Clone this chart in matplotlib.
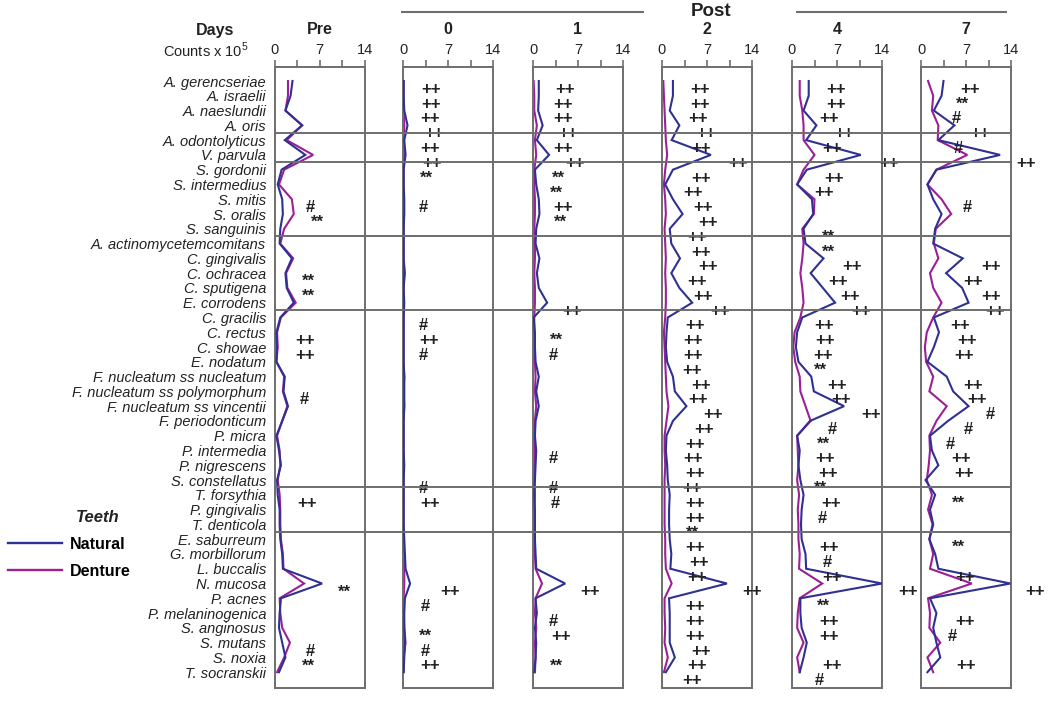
import matplotlib
matplotlib.use("Agg")
import matplotlib.pyplot as plt
from matplotlib.lines import Line2D
from matplotlib.transforms import blended_transform_factory

plt.rcParams['font.family'] = ['Liberation Sans', 'DejaVu Sans']
plt.rcParams['mathtext.fontset'] = 'custom'
plt.rcParams['mathtext.rm'] = 'Liberation Sans'

# ---------------- data ----------------
species = [
    "A. gerencseriae", "A. israelii", "A. naeslundii", "A. oris", "A. odontolyticus",
    "V. parvula", "S. gordonii", "S. intermedius", "S. mitis", "S. oralis", "S. sanguinis",
    "A. actinomycetemcomitans", "C. gingivalis", "C. ochracea", "C. sputigena", "E. corrodens",
    "C. gracilis", "C. rectus", "C. showae", "E. nodatum", "F. nucleatum ss nucleatum",
    "F. nucleatum ss polymorphum", "F. nucleatum ss vincentii", "F. periodonticum", "P. micra",
    "P. intermedia", "P. nigrescens", "S. constellatus", "T. forsythia", "P. gingivalis",
    "T. denticola", "E. saburreum", "G. morbillorum", "L. buccalis", "N. mucosa", "P. acnes",
    "P. melaninogenica", "S. anginosus", "S. mutans", "S. noxia", "T. socranskii",
]
panel_titles = ["Pre", "0", "1", "2", "4", "7"]

natural_pre = [2.8, 2.5, 1.7, 4.3, 1.6, 4.8, 1.1, 0.5, 1.2, 1.3, 0.9, 0.8, 2.7, 1.7, 1.9, 3.0,
               0.9, 0.3, 0.4, 0.3, 1.6, 1.4, 2.1, 1.2, 0.3, 0.7, 1.0, 0.4, 0.5, 0.8, 0.8, 0.9,
               1.2, 1.3, 7.4, 1.0, 0.8, 0.7, 1.2, 1.7, 0.7]
denture_pre = [2.1, 2.1, 1.7, 4.3, 1.9, 6.0, 1.5, 0.7, 2.7, 3.0, 1.5, 0.9, 2.9, 1.8, 2.0, 3.3,
               1.0, 0.4, 0.5, 0.3, 1.5, 1.3, 2.0, 1.2, 0.4, 0.8, 0.9, 0.5, 0.8, 0.9, 0.9, 1.0,
               1.3, 1.4, 4.6, 0.8, 0.9, 1.2, 2.4, 1.5, 0.4]
natural_d0 = [0.1, 0.1, 0.2, 0.7, 0.2, 0.4, 0.1, 0.1, 0.2, 0.2, 0.1, 0.1, 0.1, 0.2, 0.1, 0.2,
              0.1, 0.1, 0.1, 0.1, 0.2, 0.2, 0.2, 0.1, 0.1, 0.1, 0.2, 0.1, 0.1, 0.1, 0.1, 0.2,
              0.3, 0.4, 1.1, 0.3, 0.2, 0.2, 0.3, 0.2, 0.1]
denture_d0 = [0.1, 0.1, 0.1, 0.2, 0.1, 0.2, 0.1, 0.1, 0.1, 0.1, 0.1, 0.1, 0.1, 0.3, 0.1, 0.1,
              0.1, 0.1, 0.1, 0.1, 0.2, 0.1, 0.2, 0.1, 0.1, 0.1, 0.1, 0.1, 0.1, 0.1, 0.1, 0.1,
              0.1, 0.2, 0.2, 0.1, 0.1, 0.2, 0.4, 0.1, 0.1]
natural_d1 = [0.9, 0.9, 0.8, 1.5, 0.6, 2.5, 0.3, 0.5, 0.9, 1.0, 0.5, 0.4, 1.0, 0.6, 0.9, 2.2,
              0.1, 0.3, 0.3, 0.4, 0.9, 0.5, 0.9, 0.4, 0.3, 0.5, 0.4, 0.3, 0.2, 0.3, 0.3, 0.3,
              0.4, 0.5, 5.0, 0.4, 0.6, 0.3, 0.5, 0.4, 0.2]
denture_d1 = [0.1, 0.2, 0.2, 0.6, 0.3, 0.5, 0.2, 0.2, 0.3, 0.3, 0.2, 0.3, 0.3, 0.2, 0.3, 0.3,
              0.2, 0.2, 0.3, 0.3, 0.4, 0.3, 0.5, 0.3, 0.2, 0.3, 0.3, 0.2, 0.3, 0.2, 0.3, 0.3,
              0.3, 0.4, 1.4, 0.4, 0.3, 0.5, 0.3, 0.4, 0.3]
natural_d2 = [1.7, 1.7, 1.2, 2.7, 1.5, 7.6, 1.7, 0.5, 1.7, 3.2, 1.2, 1.45, 2.8, 1.45, 2.7, 4.7,
              0.9, 0.7, 0.6, 0.8, 1.7, 2.0, 3.8, 1.7, 0.7, 0.6, 0.8, 0.9, 1.2, 1.1, 1.1, 1.2,
              1.45, 1.3, 10.1, 1.1, 1.2, 1.2, 1.2, 2.0, 0.6]
denture_d2 = [0.2, 0.3, 0.4, 0.5, 0.6, 0.8, 0.5, 0.3, 0.5, 0.6, 0.4, 0.5, 0.6, 0.5, 0.6, 0.6,
              0.5, 0.3, 0.4, 0.5, 0.6, 0.7, 1.0, 0.7, 0.4, 0.4, 0.5, 0.4, 0.4, 0.4, 0.4, 0.5,
              0.5, 0.6, 1.5, 0.4, 0.4, 0.5, 0.4, 0.9, 0.3]
natural_d4 = [2.6, 2.6, 1.8, 3.8, 2.2, 10.7, 2.3, 0.8, 3.1, 3.3, 1.8, 2.1, 4.9, 2.9, 4.8, 6.7,
              1.6, 0.8, 0.6, 1.0, 3.0, 3.4, 8.1, 2.8, 0.8, 1.2, 1.0, 1.3, 1.8, 1.5, 1.4, 1.5,
              2.1, 2.2, 14.0, 1.3, 1.3, 1.5, 2.3, 1.8, 1.2]
denture_d4 = [1.2, 1.2, 1.6, 1.8, 1.8, 3.5, 1.8, 0.8, 3.5, 3.4, 1.6, 1.8, 1.6, 1.3, 1.6, 1.8,
              1.3, 0.4, 0.2, 0.5, 1.2, 1.3, 2.1, 2.9, 0.8, 0.9, 1.0, 0.8, 1.1, 0.9, 1.0, 1.0,
              1.2, 1.1, 4.7, 1.2, 0.9, 0.8, 1.8, 0.8, 1.2]
natural_d7 = [3.5, 3.2, 2.0, 5.2, 2.7, 12.3, 2.4, 1.0, 1.9, 3.2, 2.2, 1.9, 6.5, 3.9, 6.4, 7.4,
              2.0, 2.8, 2.0, 1.0, 4.0, 5.0, 7.4, 4.2, 1.4, 1.7, 2.7, 0.7, 2.2, 1.4, 1.9, 1.3,
              2.2, 2.7, 13.9, 1.4, 2.4, 1.9, 2.4, 3.0, 1.0]
denture_d7 = [1.1, 1.9, 1.7, 2.7, 2.6, 7.2, 2.4, 1.0, 3.2, 4.7, 2.3, 2.0, 2.7, 1.4, 1.9, 3.2,
              1.9, 0.9, 0.6, 0.8, 1.9, 1.3, 4.0, 2.4, 1.3, 1.4, 1.2, 0.9, 1.7, 1.1, 1.8, 1.3,
              1.9, 1.4, 7.9, 1.1, 1.4, 1.3, 3.0, 1.0, 1.9]

natural = [natural_pre, natural_d0, natural_d1, natural_d2, natural_d4, natural_d7]
denture = [denture_pre, denture_d0, denture_d1, denture_d2, denture_d4, denture_d7]

# significance marks: (species index, x position in counts, symbol)
marks_pre = [(8, 5.6, "#"), (9, 6.6, "**"), (13, 5.2, "**"), (14, 5.3, "**"), (17, 4.8, "++"),
             (18, 4.8, "++"), (21, 4.6, "#"), (28, 5.1, "++"), (34, 10.9, "**"), (38, 5.6, "#"),
             (39, 5.2, "**")]
marks_d0 = [(0, 4.4, "++"), (1, 4.4, "++"), (2, 4.25, "++"), (3, 4.8, "++"), (4, 4.25, "++"),
            (5, 4.55, "++"), (6, 3.6, "**"), (8, 3.1, "#"), (16, 3.1, "#"), (17, 4.0, "++"),
            (18, 3.1, "#"), (27, 3.1, "#"), (28, 4.25, "++"), (34, 7.25, "++"), (35, 3.4, "#"),
            (37, 3.5, "**"), (38, 3.4, "#"), (39, 4.25, "++")]
marks_d1 = [(0, 4.9, "++"), (1, 4.7, "++"), (2, 4.7, "++"), (3, 5.4, "++"), (4, 4.7, "++"),
            (5, 6.5, "++"), (6, 4.0, "**"), (7, 3.6, "**"), (8, 4.7, "++"), (9, 4.25, "**"),
            (15, 6.1, "++"), (17, 3.6, "**"), (18, 3.2, "#"), (25, 3.2, "#"), (27, 3.2, "#"),
            (28, 3.4, "#"), (34, 8.9, "++"), (36, 3.2, "#"), (37, 4.4, "++"), (39, 3.7, "**")]
marks_d2 = [(0, 5.9, "++"), (1, 5.9, "++"), (2, 5.6, "++"), (3, 6.8, "++"), (4, 6.0, "++"),
            (5, 11.8, "++"), (6, 6.0, "++"), (7, 4.8, "++"), (8, 6.3, "++"), (9, 7.15, "++"),
            (10, 5.5, "++"), (11, 6.0, "++"), (12, 7.15, "++"), (13, 5.45, "++"), (14, 6.3, "++"),
            (15, 9.0, "++"), (16, 5.1, "++"), (17, 4.8, "++"), (18, 4.8, "++"), (19, 4.7, "++"),
            (20, 6.0, "++"), (21, 5.6, "++"), (22, 7.9, "++"), (23, 6.5, "++"), (24, 5.2, "++"),
            (25, 4.8, "++"), (26, 5.1, "++"), (27, 4.7, "++"), (28, 5.2, "++"), (29, 5.2, "++"),
            (30, 4.7, "**"), (31, 5.1, "++"), (32, 5.75, "++"), (33, 5.4, "++"), (34, 14.05, "++"),
            (35, 5.1, "++"), (36, 5.1, "++"), (37, 5.2, "++"), (38, 6.0, "++"), (39, 5.45, "++"),
            (40, 4.7, "++")]
marks_d4 = [(0, 6.8, "++"), (1, 6.8, "++"), (2, 5.7, "++"), (3, 8.1, "++"), (4, 6.25, "++"),
            (5, 15.1, "++"), (6, 6.5, "++"), (7, 5.05, "++"), (10, 5.7, "**"), (11, 5.7, "**"),
            (12, 9.4, "++"), (13, 7.1, "++"), (14, 9.0, "++"), (15, 10.8, "++"), (16, 4.95, "++"),
            (17, 5.2, "++"), (18, 4.85, "++"), (19, 4.4, "**"), (20, 7.0, "++"), (21, 7.65, "++"),
            (22, 12.3, "++"), (23, 6.25, "#"), (24, 4.85, "**"), (25, 5.2, "++"), (26, 5.6, "++"),
            (27, 4.4, "**"), (28, 6.1, "++"), (29, 4.7, "#"), (31, 5.7, "++"), (32, 5.5, "#"),
            (33, 6.25, "++"), (34, 18.1, "++"), (35, 4.85, "**"), (36, 5.7, "++"), (37, 5.7, "++"),
            (39, 6.25, "++"), (40, 4.3, "#")]
marks_d7 = [(0, 7.55, "++"), (1, 6.5, "**"), (2, 5.45, "#"), (3, 9.2, "++"), (4, 5.85, "#"),
            (5, 16.4, "++"), (8, 7.2, "#"), (12, 10.9, "++"), (13, 8.1, "++"), (14, 10.9, "++"),
            (15, 11.55, "++"), (16, 6.1, "++"), (17, 7.1, "++"), (18, 6.7, "++"), (20, 8.1, "++"),
            (21, 8.7, "++"), (22, 10.8, "#"), (23, 7.4, "#"), (24, 4.6, "#"), (25, 6.2, "++"),
            (26, 6.7, "++"), (28, 5.85, "**"), (31, 5.85, "**"), (33, 6.9, "++"), (34, 17.8, "++"),
            (36, 6.9, "++"), (37, 4.8, "#"), (39, 7.0, "++")]
marks = [marks_pre, marks_d0, marks_d1, marks_d2, marks_d4, marks_d7]

group_breaks = [3.5, 5.5, 10.5, 15.5, 27.5, 30.5]
xticks = [0, 3.5, 7, 10.5, 14]
xticklabels = ["0", "", "7", "", "14"]

# ---------------- layout / style ----------------
W, H = 1050, 703
blue = "#2E3192"
purple = "#9B1F96"
grey = "#6E6E6E"
panel_left_px = [274.5, 403, 533, 662, 792, 921]
panel_w_px = 90
top_px, bot_px = 67, 688
row0_px, row_step = 81, 14.78
mark_offset = 0.57

fig = plt.figure(figsize=(W / 100, H / 100), dpi=100)

axes = []
for i, title in enumerate(panel_titles):
    l = panel_left_px[i]
    ax = fig.add_axes([l / W, 1 - bot_px / H, panel_w_px / W, (bot_px - top_px) / H])
    rows = list(range(len(species)))
    ax.plot(natural[i], rows, color=blue, lw=1.5, solid_joinstyle='miter', zorder=3)
    ax.plot(denture[i], rows, color=purple, lw=1.5, solid_joinstyle='miter', zorder=2)
    ax.set_xlim(0, 14)
    ax.set_ylim((bot_px - row0_px) / row_step, (top_px - row0_px) / row_step)
    ax.xaxis.tick_top()
    ax.set_xticks(xticks)
    ax.set_xticklabels(xticklabels)
    ax.tick_params(axis='x', direction='out', length=5, width=1.2, color=grey, pad=2,
                   labelsize=10.5, labelcolor="#222222")
    if i == 0:
        ax.set_yticks(rows)
        ax.set_yticklabels(species, style='italic', fontsize=10.5, color="#222222")
        ax.tick_params(axis='y', length=0, pad=6)
    else:
        ax.set_yticks([])
    for s in ax.spines.values():
        s.set_color(grey)
        s.set_linewidth(1.4)
    ax.annotate(title, xy=(0.5, 1), xycoords='axes fraction', xytext=(0, 37),
                textcoords='offset pixels', ha='center', va='center',
                fontweight='bold', fontsize=11.5, color="#222222")
    for (r, x, sym) in marks[i]:
        ax.text(x, r + mark_offset, sym, ha='center', va='center', fontsize=12,
                fontweight='bold', color="#222222", clip_on=False, zorder=4)
    axes.append(ax)

# group separator lines crossing all panels
trans = blended_transform_factory(fig.transFigure, axes[0].transData)
x_left = panel_left_px[0] / W
x_right = (panel_left_px[-1] + panel_w_px) / W
for b in group_breaks:
    fig.add_artist(Line2D([x_left, x_right], [b, b], transform=trans, color=grey, lw=1.4, zorder=1))

# header texts
fig.text(215 / W, 1 - 30 / H, "Days", ha='center', va='center', fontweight='bold', fontsize=11.5, color="#222222")
fig.text(206 / W, 1 - 50 / H, r"Counts x 10$^5$", ha='center', va='center', fontsize=10.5, color="#222222")
fig.text(711 / W, 1 - 12 / H, "Post", ha='center', va='center', fontweight='bold', fontsize=13.5, color="#222222")
fig.add_artist(Line2D([402 / W, 643 / W], [1 - 12 / H, 1 - 12 / H], transform=fig.transFigure, color=grey, lw=1.5))
fig.add_artist(Line2D([797 / W, 1006 / W], [1 - 12 / H, 1 - 12 / H], transform=fig.transFigure, color=grey, lw=1.5))

# legend
fig.text(98 / W, 1 - 517 / H, "Teeth", ha='center', va='center', fontweight='bold', style='italic',
         fontsize=12, color="#222222")
handles = [Line2D([], [], color=blue, lw=1.7), Line2D([], [], color=purple, lw=1.7)]
fig.legend(handles, ["Natural", "Denture"], loc='upper left', bbox_to_anchor=(8 / W, 1 - 537 / H),
           frameon=False, prop={'weight': 'bold', 'size': 11.5}, handlelength=3.4,
           handletextpad=0.5, labelspacing=0.72, borderpad=0, borderaxespad=0)

fig.savefig("out.png", dpi=100, facecolor='white')
